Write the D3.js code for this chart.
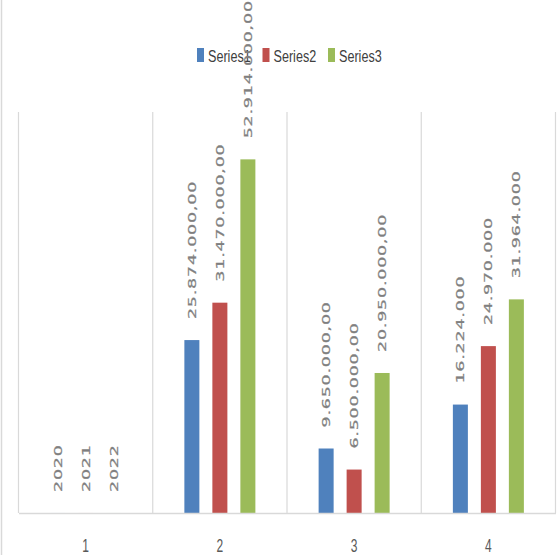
<!DOCTYPE html>
<html>
<head>
<meta charset="utf-8">
<script src="https://cdn.jsdelivr.net/npm/d3@7"></script>
<style>
  html, body { margin: 0; padding: 0; background: #fff; }
  svg { display: block; }
</style>
</head>
<body>
<svg id="chart" width="560" height="555"></svg>
<script>
// Categories and series
const categories = ["1", "2", "3", "4"];
const seriesNames = ["Series1", "Series2", "Series3"];
const series1 = [2020, 25874000, 9650000, 16224000];
const series2 = [2021, 31470000, 6500000, 24970000];
const series3 = [2022, 52914000, 20950000, 31964000];
// number format used for the data labels of each category
const labelFormats = ["d", ",.2f", ",.2f", ",d"];
const yDomainMax = 60000000;

const seriesValues = [series1, series2, series3];
const colors = ["#4f81bd", "#c0504d", "#9bbb59"];

const locale = d3.formatLocale({ decimal: ",", thousands: ".", grouping: [3], currency: ["", ""] });

const W = 560, H = 555;
const plot = { left: 18.5, right: 555.5, top: 112, bottom: 513 };

const svg = d3.select("#chart");

// outer border line on the left edge
svg.append("line")
  .attr("x1", 1.5).attr("x2", 1.5).attr("y1", 0).attr("y2", H)
  .attr("stroke", "#d9d9d9").attr("stroke-width", 1.5);

const x0 = d3.scaleBand().domain(categories).range([plot.left, plot.right]).padding(0);
const x1 = d3.scaleBand().domain(seriesNames).range([-42, 42]).paddingInner(0.464).paddingOuter(0.232);
const y = d3.scaleLinear().domain([0, yDomainMax]).range([plot.bottom, plot.top]);

// vertical category separators
const bounds = categories.map(c => x0(c)).concat([x0(categories[categories.length - 1]) + x0.bandwidth()]);
svg.append("g").selectAll("line").data(bounds).join("line")
  .attr("x1", d => d).attr("x2", d => d)
  .attr("y1", plot.top).attr("y2", plot.bottom)
  .attr("stroke", "#d9d9d9").attr("stroke-width", 1.2);

// bars
const rows = [];
categories.forEach((c, ci) => {
  seriesNames.forEach((s, si) => {
    rows.push({ cat: c, ci, ser: s, si, value: seriesValues[si][ci] });
  });
});

svg.append("g").selectAll("rect").data(rows).join("rect")
  .attr("x", d => x0(d.cat) + x0.bandwidth() / 2 + x1(d.ser))
  .attr("y", d => y(d.value))
  .attr("width", x1.bandwidth())
  .attr("height", d => plot.bottom - y(d.value))
  .attr("fill", d => colors[d.si]);

// category axis
const xAxis = d3.axisBottom(x0).tickSize(0).tickPadding(0);
const axisG = svg.append("g").attr("transform", `translate(0,${plot.bottom})`).call(xAxis);
axisG.select(".domain").attr("stroke", "#d9d9d9").attr("stroke-width", 1.6);
axisG.selectAll(".tick text")
  .attr("y", 0).attr("dy", 0)
  .attr("transform", "translate(0,39) scale(1.0,1.6)")
  .attr("font-family", "Liberation Sans, Arial, sans-serif")
  .attr("font-size", 12)
  .attr("fill", "#595959");

// legend
const legend = svg.append("g").attr("transform", "translate(197,0)");
const legItems = legend.selectAll("g").data(seriesNames).join("g")
  .attr("transform", (d, i) => `translate(${i * 65.5},0)`);
legItems.append("rect")
  .attr("x", 0).attr("y", 48).attr("width", 7).attr("height", 14)
  .attr("fill", (d, i) => colors[i]);
legItems.append("text")
  .attr("transform", "translate(11,61.5) scale(1.05,1.45)")
  .attr("font-family", "Liberation Sans, Arial, sans-serif")
  .attr("font-size", 12)
  .attr("fill", "#404040")
  .text(d => d);

// rotated data labels
svg.append("g").selectAll("text").data(rows).join("text")
  .attr("transform", d => {
    const cx = x0(d.cat) + x0.bandwidth() / 2 + x1(d.ser) + x1.bandwidth() / 2;
    return `translate(${cx},${y(d.value) - 21}) scale(1,1.59) rotate(-90)`;
  })
  .attr("dy", "0.36em")
  .attr("text-anchor", "start")
  .attr("font-family", "DejaVu Sans, Verdana, sans-serif")
  .attr("font-size", 11)
  .attr("letter-spacing", 0.5)
  .attr("fill", "#7f7f7f")
  .attr("stroke", "#7f7f7f")
  .attr("stroke-width", 0.25)
  .text(d => locale.format(labelFormats[d.ci])(d.value));
</script>
</body>
</html>
